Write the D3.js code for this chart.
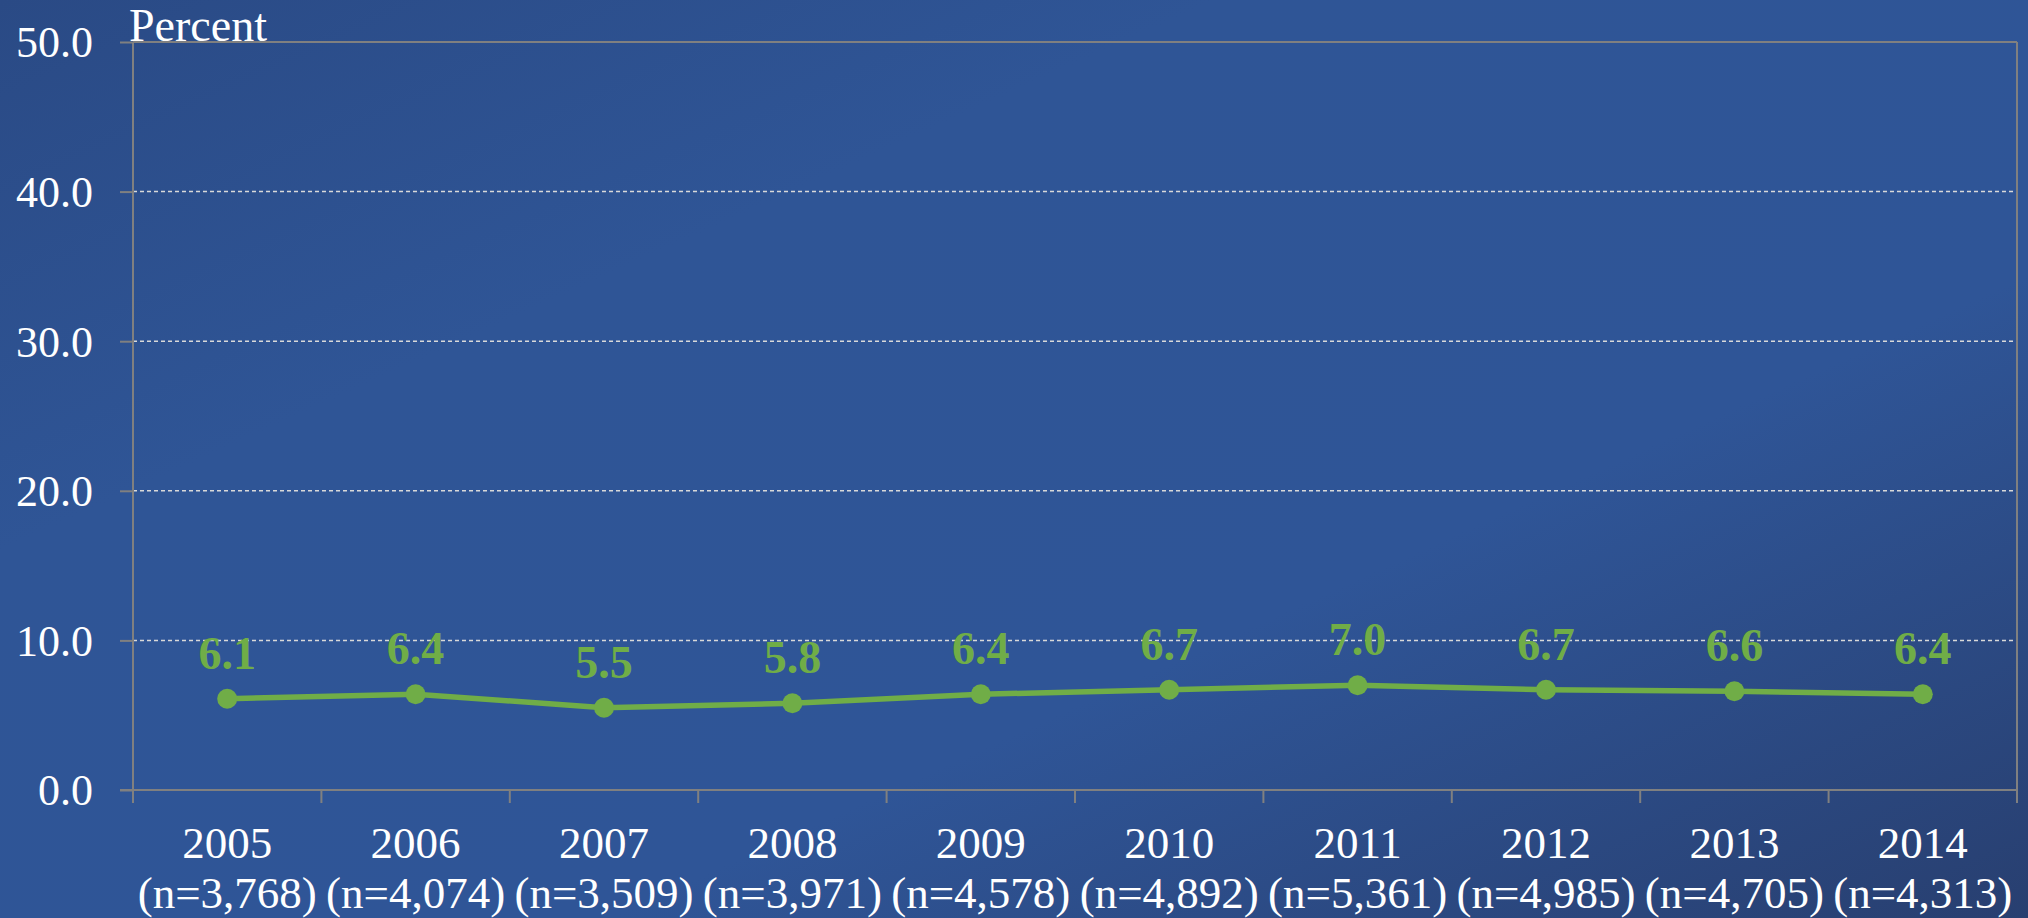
<!DOCTYPE html>
<html><head><meta charset="utf-8">
<script src="https://cdn.jsdelivr.net/npm/d3@7"></script>
<style>html,body{margin:0;padding:0;overflow:hidden;background:#2f5597}</style>
</head><body>
<svg id="chart" width="2028" height="918"></svg>
<script>
const years = ["2005","2006","2007","2008","2009","2010","2011","2012","2013","2014"];
const sampleSizes = ["(n=3,768)","(n=4,074)","(n=3,509)","(n=3,971)","(n=4,578)","(n=4,892)","(n=5,361)","(n=4,985)","(n=4,705)","(n=4,313)"];
const percents = [6.1, 6.4, 5.5, 5.8, 6.4, 6.7, 7.0, 6.7, 6.6, 6.4];
const yTicks = [0, 10, 20, 30, 40, 50];
const yLabel = "Percent";

const W = 2028, H = 918;
const m = {left: 133, right: 2017, top: 42, bottom: 790};
const svg = d3.select("#chart");
const defs = svg.append("defs");
const grad = defs.append("linearGradient").attr("id","bg")
  .attr("x1","0%").attr("y1","0%").attr("x2","100%").attr("y2","100%");
grad.append("stop").attr("offset","0%").attr("stop-color","#2a4a85");
grad.append("stop").attr("offset","30%").attr("stop-color","#2f5596");
grad.append("stop").attr("offset","65%").attr("stop-color","#2f5597");
grad.append("stop").attr("offset","100%").attr("stop-color","#283f70");
svg.append("rect").attr("width",W).attr("height",H).attr("fill","url(#bg)");

const x = d3.scaleBand().domain(years).range([m.left, m.right]).padding(0);
const y = d3.scaleLinear().domain([0, 50]).range([m.bottom, m.top]);
const font = "'Liberation Serif', 'DejaVu Serif', serif";

// gridlines
svg.append("g").selectAll("line").data(yTicks.filter(d => d > 0 && d < 50)).join("line")
  .attr("x1", m.left).attr("x2", m.right)
  .attr("y1", d => y(d)).attr("y2", d => y(d))
  .attr("stroke","#d9d9d9").attr("stroke-width",1.5).attr("stroke-dasharray","4,3");

// plot border top/right
svg.append("line").attr("x1", m.left).attr("x2", m.right).attr("y1", y(50)).attr("y2", y(50))
  .attr("stroke","#808080").attr("stroke-width",2);
svg.append("line").attr("x1", m.right).attr("x2", m.right).attr("y1", m.top).attr("y2", m.bottom + 13)
  .attr("stroke","#808080").attr("stroke-width",2);

// y axis
const yAxis = svg.append("g").attr("transform", `translate(${m.left},0)`)
  .call(d3.axisLeft(y).tickValues(yTicks).tickFormat(d3.format(".1f")).tickSize(13).tickPadding(27));
yAxis.select(".domain").attr("d", `M0,${m.top}V${m.bottom + 13}`).attr("stroke","#808080").attr("stroke-width",2);
yAxis.selectAll(".tick line").attr("stroke","#808080").attr("stroke-width",2);
yAxis.selectAll(".tick text").attr("fill","#ffffff").style("font-family", font).style("font-size","44px").attr("dy","0.34em");

// x axis
const bounds = years.map(d => x(d)).concat([m.right]);
svg.append("line").attr("x1", m.left - 13).attr("x2", m.right).attr("y1", m.bottom).attr("y2", m.bottom)
  .attr("stroke","#808080").attr("stroke-width",2);
svg.append("g").selectAll("line").data(bounds.slice(1, -1)).join("line")
  .attr("x1", d => d).attr("x2", d => d).attr("y1", m.bottom).attr("y2", m.bottom + 13)
  .attr("stroke","#808080").attr("stroke-width",2);

svg.append("g").selectAll("text").data(years).join("text")
  .attr("x", d => x(d) + x.bandwidth()/2).attr("y", 858)
  .attr("text-anchor","middle").attr("fill","#fff")
  .style("font-family", font).style("font-size","45px")
  .text(d => d);
svg.append("g").selectAll("text").data(sampleSizes).join("text")
  .attr("x", (d,i) => x(years[i]) + x.bandwidth()/2).attr("y", 908)
  .attr("text-anchor","middle").attr("fill","#fff")
  .style("font-family", font).style("font-size","45px")
  .text(d => d);

// y label
svg.append("text").attr("x", 129).attr("y", 41).attr("fill","#fff")
  .style("font-family", font).style("font-size","46px").text(yLabel);

// line
const pts = years.map((d,i) => ({year: d, v: percents[i]}));
const line = d3.line().x(d => x(d.year) + x.bandwidth()/2).y(d => y(d.v));
svg.append("path").datum(pts).attr("d", line).attr("fill","none")
  .attr("stroke","#70ad47").attr("stroke-width",5.5);
svg.append("g").selectAll("circle").data(pts).join("circle")
  .attr("cx", d => x(d.year) + x.bandwidth()/2).attr("cy", d => y(d.v)).attr("r", 10)
  .attr("fill","#70ad47");
svg.append("g").selectAll("text").data(pts).join("text")
  .attr("x", d => x(d.year) + x.bandwidth()/2).attr("y", d => y(d.v) - 30)
  .attr("text-anchor","middle").attr("fill","#70ad47")
  .style("font-family", font).style("font-size","46px").style("font-weight","bold")
  .text(d => d.v.toFixed(1));
</script>
</body></html>
